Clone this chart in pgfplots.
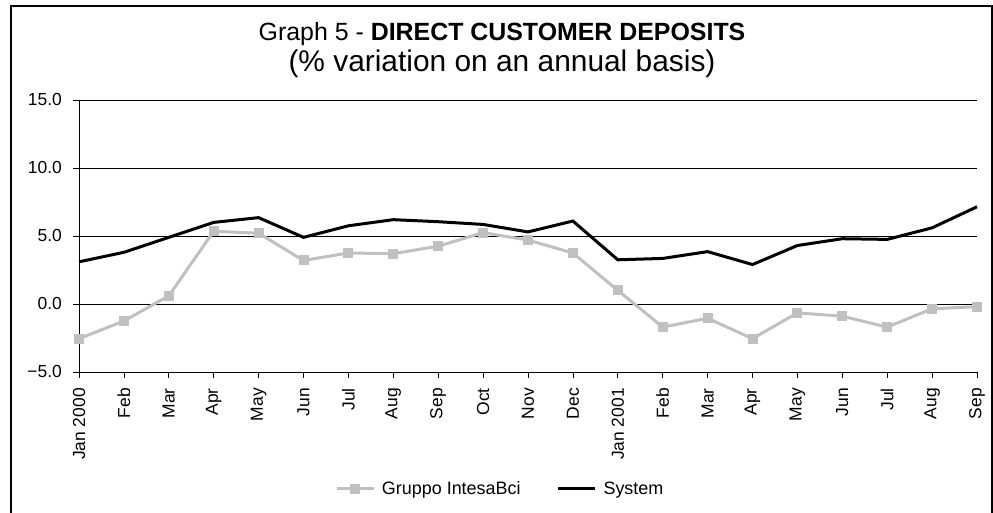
\documentclass[border=0pt]{standalone}
\usepackage{pgfplots}
\pgfplotsset{compat=1.18}
\usepackage{fontspec}
\setmainfont{Liberation Sans}
\definecolor{grp}{RGB}{192,192,192}
\pgfplotstableread{
x sys grp
0 3.1 -2.55
1 3.8 -1.25
2 4.9 0.6
3 6.0 5.35
4 6.35 5.2
5 4.9 3.2
6 5.75 3.75
7 6.2 3.7
8 6.05 4.25
9 5.85 5.25
10 5.3 4.7
11 6.1 3.75
12 3.25 1.0
13 3.35 -1.7
14 3.85 -1.05
15 2.9 -2.55
16 4.3 -0.65
17 4.8 -0.9
18 4.75 -1.7
19 5.6 -0.35
20 7.15 -0.2
}\datatable
\begin{document}
\begin{tikzpicture}[x=1bp,y=1bp]
\useasboundingbox (0,0) rectangle (993,513);
\draw[line width=1.5bp] (11,0) -- (11,507) -- (992,507) -- (992,0);
\node[anchor=base,font=\fontsize{25}{29}\selectfont] at (502,472.5) {Graph 5 - \textbf{DIRECT CUSTOMER DEPOSITS}};
\node[anchor=base,font=\fontsize{30}{34}\selectfont] at (502,441.5) {(\% variation on an annual basis)};
\begin{axis}[
  at={(79bp,141bp)}, anchor=south west,
  scale only axis, width=898bp, height=272bp,
  xmin=0, xmax=20, ymin=-5, ymax=15,
  axis x line*=bottom, axis y line*=left,
  x axis line style={-}, y axis line style={-},
  axis line style={black, line width=0.8bp},
  ytick={-5,0,5,10,15},
  yticklabels={−5.0,0.0,5.0,10.0,15.0},
  ymajorgrids, grid style={black, line width=0.8bp},
  xtick={0,...,20},
  xticklabels={Jan 2000,Feb,Mar,Apr,May,Jun,Jul,Aug,Sep,Oct,Nov,Dec,Jan 2001,Feb,Mar,Apr,May,Jun,Jul,Aug,Sep},
  tick align=outside, major tick length=6bp,
  tick style={black, line width=0.8bp},
  x tick label style={rotate=90, anchor=east, inner xsep=10bp, font=\fontsize{17.5}{20}\selectfont},
  y tick label style={inner xsep=11bp, font=\fontsize{17.5}{20}\selectfont},
  clip=false,
  legend columns=2,
  legend style={draw=none, fill=none, at={(0.469,-0.43)}, anchor=center,
    font=\fontsize{18}{21}\selectfont,
    /tikz/every odd column/.append style={column sep=5bp},
    /tikz/every even column/.append style={column sep=34bp}},
  legend image code/.code={\draw[mark repeat=2,mark phase=2,#1] plot coordinates {(0bp,0bp) (18.5bp,0bp) (37bp,0bp)};},
]
\addplot[grp, line width=3bp, mark=square*, mark size=3.5bp, mark options={solid}] table[x=x,y=grp] {\datatable};
\addlegendentry{Gruppo IntesaBci}
\addplot[black, line width=3bp, no markers] table[x=x,y=sys] {\datatable};
\addlegendentry{System}
\end{axis}
\end{tikzpicture}
\end{document}
